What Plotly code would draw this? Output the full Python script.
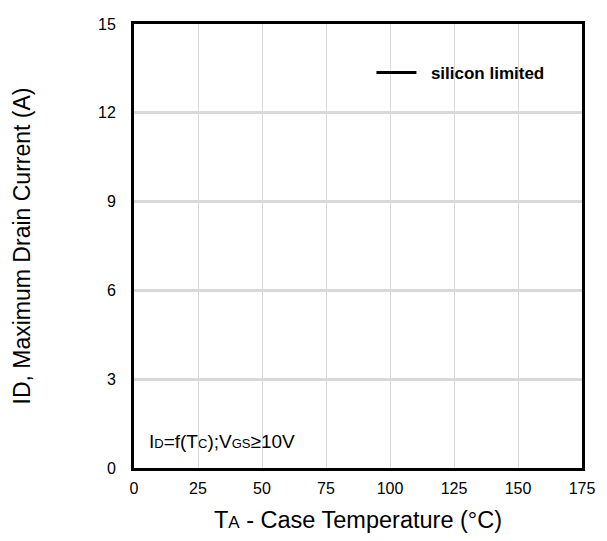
import plotly.graph_objects as go

# Data (no curve is visible in the reference: the series has no points)
silicon_limited_temp = [None]
silicon_limited_current = [None]

x_ticks = [0, 25, 50, 75, 100, 125, 150, 175]
y_ticks = [0, 3, 6, 9, 12, 15]

FONT = "Liberation Sans, Arial, sans-serif"

fig = go.Figure()
fig.add_trace(go.Scatter(
    x=silicon_limited_temp, y=silicon_limited_current,
    mode="lines", name="&nbsp;&nbsp;<b>silicon limited</b>",
    line=dict(color="black", width=3),
    showlegend=True,
))

fig.update_layout(
    width=599, height=533,
    margin=dict(l=126, r=25, t=8, b=73),
    paper_bgcolor="white", plot_bgcolor="white",
    font=dict(family=FONT, color="black", size=16),
    showlegend=True,
    legend=dict(
        x=0.53, y=0.89, xanchor="left", yanchor="middle",
        bgcolor="rgba(0,0,0,0)",
        font=dict(family=FONT, size=17, color="black"),
        itemwidth=40,
    ),
    xaxis=dict(
        range=[0, 175], tickvals=x_ticks, ticktext=[str(v) for v in x_ticks],
        showgrid=True, gridcolor="#d9d9d9", gridwidth=1,
        showline=True, mirror=True, linecolor="black", linewidth=3,
        ticks="", zeroline=False,
        tickfont=dict(size=16), ticklabelstandoff=4,
        title=dict(text="T<span style='font-size:17px'>A</span> - Case Temperature (°C)",
                   font=dict(size=23.5), standoff=16),
    ),
    yaxis=dict(
        range=[0, 15], tickvals=y_ticks, ticktext=[str(v) for v in y_ticks],
        showgrid=True, gridcolor="#d9d9d9", gridwidth=2.5,
        showline=True, mirror=True, linecolor="black", linewidth=3,
        ticks="", zeroline=False,
        tickfont=dict(size=16), ticklabelstandoff=12,
        title=dict(text="ID, Maximum Drain Current (A)",
                   font=dict(size=23), standoff=61),
    ),
)

fig.add_annotation(
    xref="paper", yref="paper", x=0.03, y=0.06,
    xanchor="left", yanchor="middle", showarrow=False,
    text="I<span style='font-size:13px'>D</span>=f(T<span style='font-size:13px'>C</span>);V<span style='font-size:13px'>GS</span>≥10V",
    font=dict(family=FONT, size=19, color="black"),
)

fig.write_html("out.html")
